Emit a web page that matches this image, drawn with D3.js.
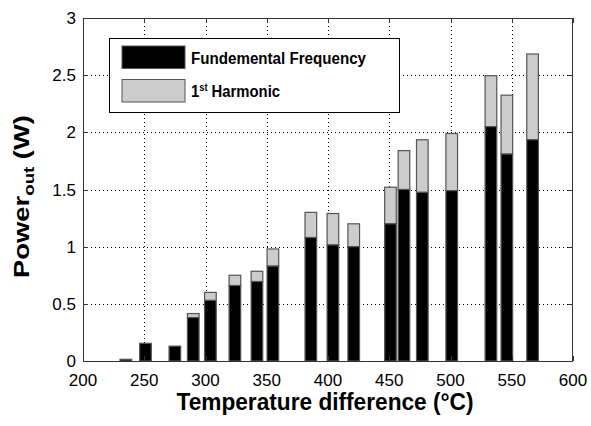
<!DOCTYPE html>
<html><head><meta charset="utf-8">
<script src="https://cdn.jsdelivr.net/npm/d3@7"></script>
<style>body{margin:0;background:#fff}</style>
</head><body>
<svg id="c" width="591" height="426"></svg>
<script>
const temperatures = [235, 251, 275, 290, 304, 324, 342, 355, 386, 404, 421, 451, 462, 477, 501, 533, 546, 567];
const fundamental = [0.015, 0.155, 0.13, 0.38, 0.53, 0.66, 0.695, 0.83, 1.08, 1.015, 1.0, 1.2, 1.5, 1.475, 1.49, 2.05, 1.81, 1.935];
const harmonic = [0, 0, 0, 0.035, 0.07, 0.09, 0.09, 0.15, 0.22, 0.275, 0.2, 0.32, 0.34, 0.46, 0.5, 0.445, 0.515, 0.75];
const xTicks = [200, 250, 300, 350, 400, 450, 500, 550, 600];
const yTicks = [0, 0.5, 1, 1.5, 2, 2.5, 3];
const seriesNames = ["Fundemental Frequency", "1st Harmonic"];

const svg = d3.select("#c");
const L = 83, R = 573, T = 18, B = 361;
const x = d3.scaleLinear().domain([200, 600]).range([L, R]);
const y = d3.scaleLinear().domain([0, 3]).range([B, T]);
const barW = 9.5; // in data units

// grid
const grid = svg.append("g").attr("stroke", "#000").attr("stroke-width", 1).attr("stroke-dasharray", "1,3");
grid.selectAll(".gx").data(xTicks.slice(1, -1)).join("line")
  .attr("x1", d => Math.round(x(d)) + 0.5).attr("x2", d => Math.round(x(d)) + 0.5)
  .attr("y1", T).attr("y2", B);
grid.selectAll(".gy").data(yTicks.slice(1, -1)).join("line")
  .attr("y1", d => Math.round(y(d)) + 0.5).attr("y2", d => Math.round(y(d)) + 0.5)
  .attr("x1", L).attr("x2", R);

// bars
const data = temperatures.map((t, i) => ({t, f: fundamental[i], h: harmonic[i]}));
const bars = svg.append("g");
bars.selectAll(".h").data(data.filter(d => d.h > 0)).join("rect")
  .attr("x", d => x(d.t - barW / 2)).attr("width", d => x(d.t + barW / 2) - x(d.t - barW / 2))
  .attr("y", d => y(d.f + d.h)).attr("height", d => y(d.f) - y(d.f + d.h))
  .attr("fill", "#cccccc").attr("stroke", "#555").attr("stroke-width", 1.2);
bars.selectAll(".f").data(data).join("rect")
  .attr("x", d => x(d.t - barW / 2)).attr("width", d => x(d.t + barW / 2) - x(d.t - barW / 2))
  .attr("y", d => y(d.f)).attr("height", d => y(0) - y(d.f))
  .attr("fill", "#000").attr("stroke", "#555").attr("stroke-width", 1.2);

// axes (MATLAB style, ticks inside on all sides)
const tickLen = 5;
const ax = svg.append("g").attr("stroke", "#333").attr("stroke-width", 1);
ax.append("rect").attr("x", L + 0.5).attr("y", T + 0.5).attr("width", R - L - 1).attr("height", B - T).attr("fill", "none");
xTicks.forEach(v => {
  const px = Math.round(x(v)) + 0.5;
  ax.append("line").attr("x1", px).attr("x2", px).attr("y1", B).attr("y2", B - tickLen);
  ax.append("line").attr("x1", px).attr("x2", px).attr("y1", T).attr("y2", T + tickLen);
});
yTicks.forEach(v => {
  const py = Math.round(y(v)) + 0.5;
  ax.append("line").attr("x1", L).attr("x2", L + tickLen).attr("y1", py).attr("y2", py);
  ax.append("line").attr("x1", R).attr("x2", R - tickLen).attr("y1", py).attr("y2", py);
});

const font = "Liberation Sans, Arial, sans-serif";
svg.append("g").selectAll("text").data(xTicks).join("text")
  .attr("x", d => x(d)).attr("y", 386).attr("text-anchor", "middle")
  .attr("font-family", font).attr("font-size", 17).text(d => d);
svg.append("g").selectAll("text").data(yTicks).join("text")
  .attr("x", 76).attr("y", d => y(d) + 6).attr("text-anchor", "end")
  .attr("font-family", font).attr("font-size", 17).text(d => d);

// axis titles
svg.append("text").attr("x", 325).attr("y", 410).attr("text-anchor", "middle")
  .attr("font-family", font).attr("font-size", 23).attr("font-weight", "bold")
  .attr("textLength", 297).attr("lengthAdjust", "spacingAndGlyphs")
  .text("Temperature difference (°C)");
const yt = svg.append("text").attr("transform", "translate(29,278) rotate(-90)")
  .attr("text-anchor", "start").attr("font-family", font).attr("font-weight", "bold").attr("font-size", 22)
  .attr("textLength", 163).attr("lengthAdjust", "spacingAndGlyphs");
yt.append("tspan").text("Power");
yt.append("tspan").attr("font-size", 15).attr("dy", 5).text("out");
yt.append("tspan").attr("dy", -5).text(" (W)");

// legend
const lg = svg.append("g");
lg.append("rect").attr("x", 109.5).attr("y", 38.5).attr("width", 290).attr("height", 74)
  .attr("fill", "#fff").attr("stroke", "#000").attr("stroke-width", 1);
const fills = ["#000", "#cccccc"];
[0, 1].forEach(i => {
  lg.append("rect").attr("x", 122).attr("y", 46 + i * 33.5).attr("width", 63).attr("height", 22.5)
    .attr("fill", fills[i]).attr("stroke", "#555").attr("stroke-width", 1);
});
lg.append("text").attr("x", 191).attr("y", 64).attr("font-family", font).attr("font-weight", "bold")
  .attr("font-size", 16).attr("textLength", 175).attr("lengthAdjust", "spacingAndGlyphs").text(seriesNames[0]);
const t2 = lg.append("text").attr("x", 191).attr("y", 97).attr("font-family", font).attr("font-weight", "bold").attr("font-size", 16)
  .attr("textLength", 89).attr("lengthAdjust", "spacingAndGlyphs");
t2.append("tspan").text("1");
t2.append("tspan").attr("font-size", 10).attr("dy", -6).text("st");
t2.append("tspan").attr("dy", 6).text(" Harmonic");
</script>
</body></html>
